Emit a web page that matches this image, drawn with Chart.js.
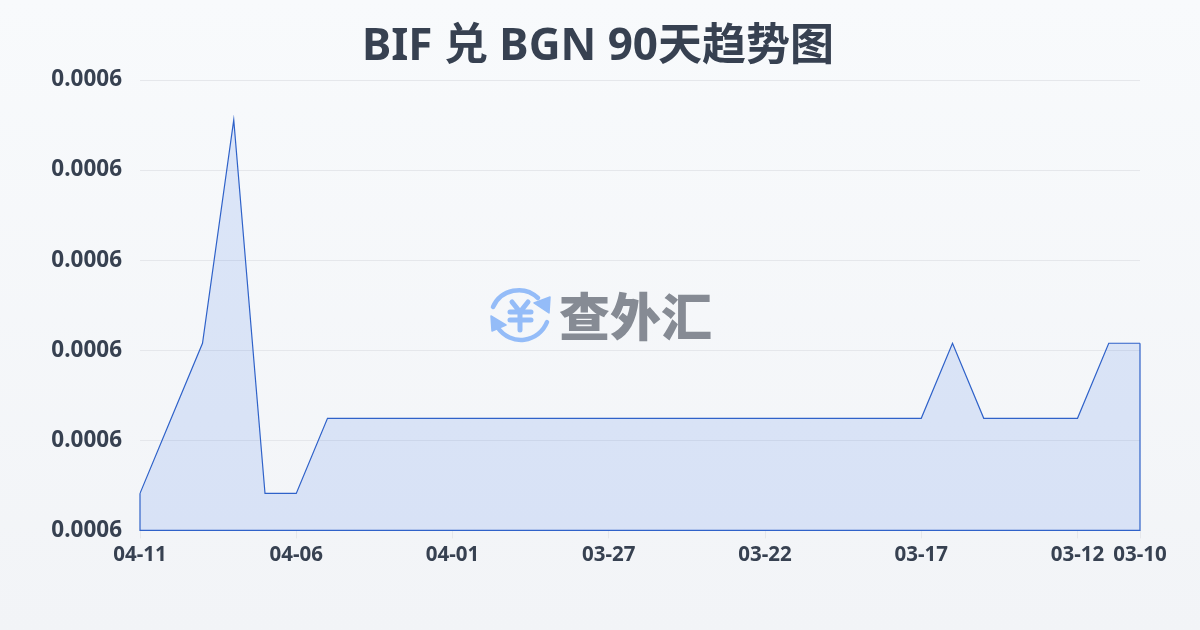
<!DOCTYPE html>
<html>
<head>
<meta charset="utf-8">
<script src="https://cdn.jsdelivr.net/npm/chart.js@4/dist/chart.umd.min.js"></script>
<style>
  html, body { margin: 0; padding: 0; }
  body { width: 1200px; height: 630px; overflow: hidden; position: relative; background: linear-gradient(180deg, #f8fafc 0%, #f2f4f7 100%); }
  #chart { position: absolute; left: 0; top: 0; }
  #mark { position: absolute; left: 488px; top: 284px; width: 64px; height: 62px; }
  #markText { position: absolute; left: 559px; top: 278px; font: 900 51px/72px "Noto Sans CJK SC", sans-serif; color: #868b94; letter-spacing: 0; white-space: nowrap; }
</style>
</head>
<body>
<canvas id="chart" width="1200" height="630"></canvas>
<svg id="mark" viewBox="0 0 64 62" fill="none" stroke="#94bcf8" stroke-linecap="round" stroke-linejoin="round">
  <path d="M5 23 A28 28 0 0 1 50 14" stroke-width="4.5"/>
  <path d="M59 38 A28 28 0 0 1 10 44" stroke-width="4.5"/>
  <path d="M62 13 L61 29 L46 19 Z" fill="#94bcf8" stroke-width="1.5"/>
  <path d="M3 32 L18 41 L4 47 Z" fill="#94bcf8" stroke-width="1.5"/>
  <path d="M24 18 L32 28 L40 18 M22 28 L43 28 M22 36 L43 36 M32 28 L32 46" stroke-width="5"/>
</svg>
<div id="markText">查外汇</div>
<script>
const dates = ['04-11','04-10','04-09','04-08','04-07','04-06','04-05','04-04','04-03','04-02','04-01',
  '03-31','03-30','03-29','03-28','03-27','03-26','03-25','03-24','03-23','03-22','03-21','03-20','03-19',
  '03-18','03-17','03-16','03-15','03-14','03-13','03-12','03-11','03-10'];
const rates = [0.000584111,0.000592444,0.000600778,0.00062556,0.000584111,0.000584111,0.000592444,
  0.000592444,0.000592444,0.000592444,0.000592444,0.000592444,0.000592444,0.000592444,0.000592444,
  0.000592444,0.000592444,0.000592444,0.000592444,0.000592444,0.000592444,0.000592444,0.000592444,
  0.000592444,0.000592444,0.000592444,0.000600778,0.000592444,0.000592444,0.000592444,0.000592444,
  0.000600778,0.000600778];
const shownDates = ['04-11','04-06','04-01','03-27','03-22','03-17','03-12','03-10'];
const yMin = 0.00058, yMax = 0.00063, yStep = 0.00001;

const textColor = '#374151';
const lineColor = '#2f62c9';

// closes the outline down to the axis, the line dataset only strokes the top
const closeArea = {
  id: 'closeArea',
  afterDatasetsDraw(chart) {
    const { ctx, scales: { x, y } } = chart;
    const last = rates.length - 1;
    const base = y.getPixelForValue(yMin);
    ctx.save();
    ctx.strokeStyle = lineColor;
    ctx.lineWidth = 1.2;
    ctx.beginPath();
    ctx.moveTo(x.getPixelForValue(0), y.getPixelForValue(rates[0]));
    ctx.lineTo(x.getPixelForValue(0), base);
    ctx.lineTo(x.getPixelForValue(last), base);
    ctx.lineTo(x.getPixelForValue(last), y.getPixelForValue(rates[last]));
    ctx.stroke();
    ctx.restore();
  }
};

new Chart(document.getElementById('chart'), {
  type: 'line',
  plugins: [closeArea],
  data: {
    labels: dates,
    datasets: [{
      data: rates,
      borderColor: lineColor,
      borderWidth: 1.2,
      backgroundColor: 'rgba(37,99,235,0.13)',
      fill: 'start',
      tension: 0,
      pointRadius: 0
    }]
  },
  options: {
    responsive: false,
    animation: false,
    layout: { padding: { right: 4, bottom: 59 } },
    plugins: {
      legend: { display: false },
      tooltip: { enabled: false },
      title: {
        display: true,
        text: 'BIF 兑 BGN 90天趋势图',
        color: textColor,
        font: { family: '"Noto Sans", "Noto Sans CJK SC", sans-serif', size: 44, weight: 'bold' },
        padding: { top: 21, bottom: 6.2 }
      }
    },
    scales: {
      x: {
        offset: false,
        border: { display: false },
        grid: {
          drawOnChartArea: false,
          drawTicks: true,
          tickLength: 8,
          tickColor: ctx => shownDates.includes(dates[ctx.index]) ? '#e5e7eb' : 'transparent'
        },
        ticks: {
          autoSkip: false,
          maxRotation: 0,
          padding: 4,
          color: textColor,
          font: { family: '"Noto Sans", sans-serif', size: 20.5, weight: 'bold' },
          callback: (v, i) => shownDates.includes(dates[i]) ? dates[i] : ''
        }
      },
      y: {
        min: yMin,
        max: yMax,
        afterFit: s => { s.width = 140; },
        border: { display: false },
        grid: { color: '#e5e7eb', lineWidth: 1, drawTicks: false },
        ticks: {
          stepSize: yStep,
          padding: 18,
          color: textColor,
          font: { family: '"Noto Sans", sans-serif', size: 22.5, weight: 'bold' },
          callback: v => v.toFixed(4)
        }
      },
      // empty axis, only keeps the plot's right edge while the title stays centred on the canvas
      spacer: {
        position: 'right',
        afterFit: s => { s.width = 56; },
        border: { display: false },
        grid: { display: false },
        ticks: { display: false }
      }
    }
  }
});
</script>
</body>
</html>
